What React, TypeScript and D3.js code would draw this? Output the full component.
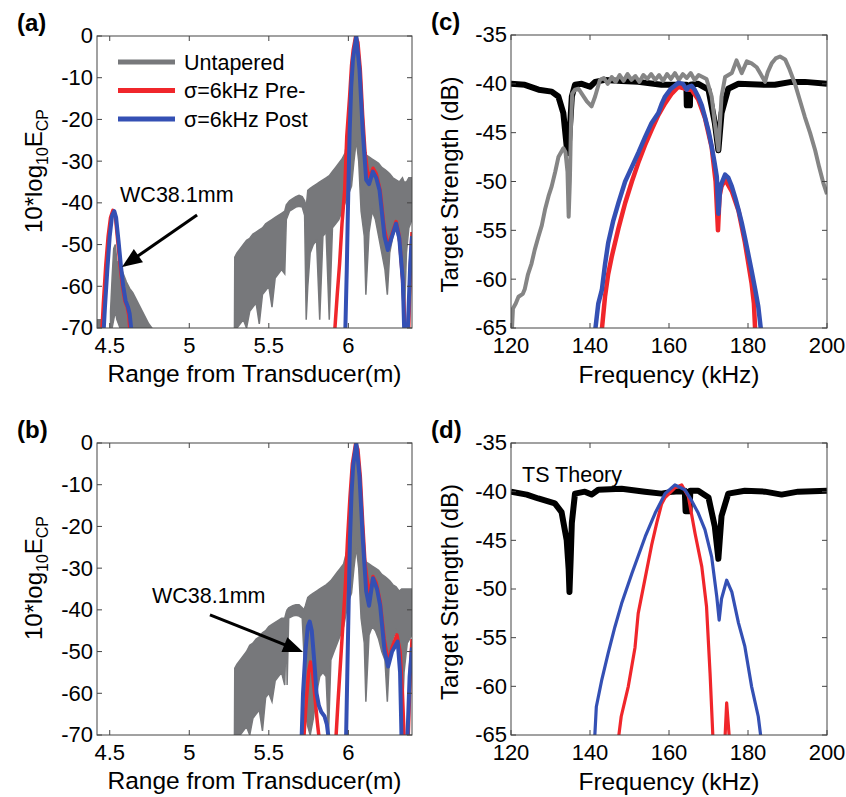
import * as d3 from "d3";

const FONT = "'Liberation Sans', Arial, Helvetica, sans-serif";
const GRAY_BAND = "#77787b";
const GRAY_LINE = "#858585";
const RED = "#f0262b";
const BLUE = "#3450b4";
const AXIS = "#444";

const rangeTicks = [4.5, 5, 5.5, 6];
const ecpTicks = [0, -10, -20, -30, -40, -50, -60, -70];
const freqTicks = [120, 140, 160, 180, 200];
const tsTicks = [-35, -40, -45, -50, -55, -60, -65];

const legendLabels = ["Untapered", "\u03c3=6kHz Pre-", "\u03c3=6kHz Post"];

// untapered compressed-pulse output: [range m, upper dB, lower dB], NaN = gap
const untaperedA = [
  [4.42, -68, -70], [4.465, -68, -70], [4.47, NaN, NaN],
  [4.505, -66, -70], [4.515, -58, -70], [4.525, -51, -68], [4.535, -50, -66], [4.545, -54, -68],
  [4.565, -55, -70], [4.585, -57, -70], [4.605, -59, -70], [4.625, -60.5, -70], [4.645, -61.5, -70],
  [4.665, -63, -70], [4.685, -64.5, -70], [4.705, -66, -70], [4.725, -67.5, -70], [4.745, -69, -70],
  [4.765, -70, -70], [4.77, NaN, NaN],
  [5.284, -70, -70], [5.286, -53, -70], [5.30, -52, -70], [5.32, -51, -69], [5.34, -50, -68],
  [5.36, -49, -70], [5.38, -48.5, -66], [5.40, -47.5, -65], [5.42, -47, -64], [5.44, -46.5, -69],
  [5.46, -46, -62], [5.48, -45, -61], [5.50, -44.5, -60], [5.52, -44, -65], [5.54, -43.5, -58],
  [5.56, -43, -57], [5.58, -42.5, -56], [5.60, -42, -57], [5.61, -40.5, -44], [5.63, -39.5, -42],
  [5.65, -39, -41.5], [5.67, -38.5, -41], [5.69, -38.2, -40.8], [5.71, -38.5, -41], [5.725, -39.5, -43],
  [5.735, -41, -68], [5.745, -37, -60], [5.76, -36.5, -52], [5.78, -36, -50], [5.80, -35.5, -49],
  [5.82, -35, -68], [5.84, -34.5, -48], [5.86, -34, -47], [5.88, -33.5, -68], [5.90, -32.5, -46],
  [5.92, -31.5, -45], [5.94, -30.5, -44], [5.96, -29.5, -42], [5.98, -28, -40], [6.00, -22, -38],
  [6.02, -10, -36], [6.035, -3, -30], [6.05, -1, -25], [6.065, -4, -30], [6.08, -18, -42],
  [6.10, -27, -48], [6.11, -28.5, -62], [6.13, -29, -47], [6.15, -29.5, -42], [6.17, -30, -44],
  [6.19, -30.5, -48], [6.21, -31.5, -52], [6.23, -32, -56], [6.245, -32.5, -62], [6.26, -33, -52],
  [6.28, -34, -48], [6.30, -34.5, -46], [6.32, -35, -50], [6.34, -34, -60], [6.35, -35, -70],
  [6.365, -35, -52], [6.38, -34, -46], [6.40, -34, -44],
];

const untaperedB = [
  [5.284, -70, -70], [5.286, -54, -70], [5.30, -53, -70], [5.32, -52, -70], [5.34, -51, -69],
  [5.36, -50, -68], [5.38, -48.5, -70], [5.40, -48, -66], [5.42, -47, -65], [5.44, -46.5, -64],
  [5.46, -45.5, -69], [5.48, -45, -61], [5.50, -44, -60], [5.52, -43.5, -62], [5.54, -43, -57],
  [5.56, -42.5, -56], [5.58, -42, -55], [5.60, -42, -58], [5.61, -40.5, -44], [5.615, -40, -58],
  [5.625, -39.5, -42], [5.65, -39, -41.5], [5.67, -38.8, -41.3], [5.69, -38.8, -41.5], [5.71, -39.5, -42],
  [5.72, -40, -50], [5.73, -39, -65], [5.745, -37, -68], [5.76, -36.5, -70], [5.78, -36, -66],
  [5.80, -35.5, -60], [5.82, -35, -56], [5.84, -34.5, -55], [5.86, -34, -56], [5.875, -33.5, -70],
  [5.89, -33, -52], [5.91, -32, -50], [5.93, -31, -48], [5.95, -30, -46], [5.97, -29, -44],
  [5.99, -26, -40], [6.00, -22, -38], [6.02, -10, -36], [6.035, -3, -30], [6.05, -1, -25],
  [6.065, -4, -30], [6.08, -18, -42], [6.10, -27, -48], [6.11, -28.5, -62], [6.13, -29, -46],
  [6.15, -29.5, -44], [6.17, -30, -45], [6.19, -30.5, -47], [6.21, -31.5, -50], [6.23, -32, -52],
  [6.245, -32.5, -62], [6.26, -33, -50], [6.28, -34, -47], [6.30, -34.5, -45], [6.32, -35.5, -50],
  [6.335, -35, -70], [6.35, -35, -55], [6.37, -35, -48], [6.40, -35, -46],
];

// tapered outputs: [range m, dB]
const preA = [
  [4.449, -72], [4.46, -64], [4.475, -55], [4.49, -48], [4.505, -43.5], [4.52, -41.8], [4.535, -43],
  [4.55, -49], [4.565, -55], [4.58, -60], [4.595, -63.5], [4.61, -65], [4.62, -67], [4.63, -72],
  [4.64, NaN],
  [5.912, -72], [5.93, -62], [5.945, -54.5], [5.96, -45], [5.977, -37], [5.99, -24], [6.008, -14.5],
  [6.02, -7], [6.03, -3.4], [6.046, 0], [6.06, -1.5], [6.075, -8], [6.09, -19], [6.105, -28],
  [6.12, -32.5], [6.135, -33.8], [6.155, -31.7], [6.175, -33], [6.20, -37], [6.225, -46],
  [6.25, -50.5], [6.27, -48], [6.30, -44.5], [6.32, -48], [6.34, -58], [6.36, -72], [6.378, -72],
  [6.39, -55], [6.40, -47],
];

const postA = [
  [4.46, -72], [4.47, -65], [4.485, -56], [4.50, -48], [4.515, -43], [4.529, -42], [4.54, -43.5],
  [4.555, -49], [4.57, -55], [4.585, -60], [4.60, -63.5], [4.615, -65], [4.625, -66.5], [4.64, -72],
  [4.65, NaN],
  [5.98, -72], [5.99, -56], [5.997, -42], [6.008, -23], [6.018, -12], [6.029, -5.5], [6.05, 0],
  [6.07, -8], [6.09, -22.5], [6.112, -34.5], [6.13, -35.5], [6.154, -32.5], [6.175, -34],
  [6.196, -37], [6.227, -48], [6.248, -51.3], [6.27, -48.5], [6.30, -45], [6.32, -48.5],
  [6.342, -58.5], [6.352, -72], [6.372, -72], [6.389, -54.5], [6.40, -48],
];

const preB = [
  [5.718, -72], [5.735, -62], [5.75, -55], [5.762, -52.5], [5.775, -55], [5.79, -61], [5.805, -67],
  [5.82, -72], [5.83, NaN],
  [5.92, -72], [5.935, -62], [5.95, -53], [5.965, -44], [5.98, -35], [5.995, -23], [6.01, -13],
  [6.025, -5], [6.046, 0], [6.06, -1.5], [6.075, -8], [6.09, -19], [6.105, -29], [6.12, -33.5],
  [6.135, -36], [6.155, -32], [6.175, -33.5], [6.20, -38], [6.225, -47], [6.25, -52.5],
  [6.275, -49], [6.305, -46], [6.325, -50], [6.34, -60], [6.352, -72], [6.375, -72], [6.39, -54],
  [6.40, -47],
];

const postB = [
  [5.705, -72], [5.715, -60], [5.73, -50], [5.745, -44], [5.757, -42.8], [5.77, -45], [5.785, -52],
  [5.80, -60], [5.815, -63], [5.83, -64.5], [5.85, -65.5], [5.865, -67.5], [5.88, -72], [5.89, NaN],
  [5.985, -72], [5.993, -56], [6.0, -42], [6.01, -23], [6.02, -12], [6.03, -5.5], [6.05, 0],
  [6.07, -8], [6.09, -22.5], [6.112, -35.5], [6.13, -39], [6.155, -32.4], [6.18, -35],
  [6.20, -39], [6.228, -50], [6.25, -53.6], [6.275, -50], [6.31, -47.6], [6.325, -55],
  [6.335, -72], [6.37, -72], [6.385, -56], [6.40, -49],
];

// target strength: [frequency kHz, dB]
const theoryC = [
  [120, -40], [123.5, -40.1], [127, -40.6], [130.3, -40.8], [132, -41.3], [133.25, -43],
  [134.1, -46.4], [134.5, -47.1], [135, -44], [135.4, -41.3], [136.2, -40.1], [137.9, -40],
  [140, -40.3], [141.3, -39.8], [143.8, -39.6], [148, -39.7], [152.2, -39.8], [158.1, -40.1],
  [162, -40.1], [164.4, -40.1], [164.5, -42.2], [165.3, -42.2], [165.4, -40.1], [167.4, -40],
  [170, -40.6], [171.6, -44], [172.5, -46.8], [173.3, -43], [175, -40.5], [177.6, -40],
  [184.3, -40.1], [186.8, -40.1], [191, -39.8], [194.4, -39.8], [200, -40],
];

const measuredC = [
  [120.2, -65.5], [120.5, -63], [121.2, -62.5], [121.9, -61.8], [123, -61.5], [123.5, -61],
  [124.3, -59.5], [125.2, -58.4], [126, -57], [126.9, -55.7], [127.8, -54.5], [128.6, -52.9],
  [129.5, -51.5], [130.3, -50.5], [131.2, -49], [132, -47.5], [133.25, -46.6], [133.8, -47],
  [134.3, -49], [134.6, -53.6], [134.9, -50], [135.2, -44], [135.5, -41], [136.2, -40.6],
  [137.1, -40.5], [137.9, -41], [139.2, -41.8], [140.4, -42.3], [141.3, -41.3], [142.5, -39.6],
  [143.5, -39.4], [144.5, -40], [145.5, -39.3], [146.5, -39.8], [147.5, -39.1], [148.5, -39.7],
  [149.5, -39], [150.5, -39.6], [151.5, -39.2], [152.5, -39.8], [153.5, -39.1], [154.5, -39.5],
  [155.5, -39], [156.5, -39.6], [157.5, -39.1], [158.5, -39.7], [159.5, -39], [160.5, -39.5],
  [161.5, -38.9], [162.5, -39.6], [163.5, -39], [164.5, -39.4], [165.5, -38.9], [166.5, -39.6],
  [167.5, -39.1], [168.5, -39.3], [169.5, -39.5], [170.8, -41.3], [171.6, -44], [172.5, -46.8],
  [173.3, -41.3], [174.2, -39.3], [175.9, -38.9], [177.1, -37.6], [178.4, -38.9], [179.7, -37.7],
  [180.9, -37.9], [182.2, -38.3], [183.2, -39], [184.3, -39.8], [185, -38.8], [186, -37.9],
  [187, -37.4], [188.1, -37.2], [189.4, -37.5], [190.5, -38.5], [191.9, -40], [193, -41.5],
  [194.4, -43.4], [195.7, -45], [197, -46.8], [198, -48.5], [199.1, -50.2], [200, -51.3],
];

const preC = [
  [142.8, -66], [143.8, -61.8], [144.6, -59.5], [145.5, -57.7], [147.2, -54.8], [148.9, -52.2],
  [150.6, -50], [152.2, -48.1], [153.9, -46.3], [155.6, -44.7], [157.3, -43.2], [159, -42],
  [160.7, -41], [162.4, -40.3], [164, -40.5], [165, -40.6], [165.7, -40.6], [167.4, -41.6],
  [169.1, -43.5], [170.8, -46.5], [171.8, -50], [172.4, -55], [172.8, -51.5], [173.3, -50.5],
  [174.2, -49.8], [175.9, -51], [177.6, -53], [179.2, -56.2], [180.9, -60.4], [181.5, -62.5],
  [181.9, -66],
];

const postC = [
  [141.1, -66], [142.1, -62.5], [143, -61.1], [143.8, -58.5], [144.6, -56.3], [145.9, -54],
  [147.2, -52.2], [148.9, -50], [150.6, -48.5], [152.3, -47], [154, -45.4], [155.6, -44],
  [157.3, -43], [158.2, -42], [159, -41.3], [160.5, -40.5], [162.4, -39.9], [163.5, -40],
  [164.5, -40.6], [165, -40.3], [165.7, -40.2], [166.5, -40.6], [167.4, -41.3], [168.3, -42.2],
  [169.1, -43.4], [170, -44.8], [170.8, -46.4], [171.5, -48], [172.1, -49.5], [172.5, -53.3],
  [172.9, -51], [173.3, -50.2], [174.2, -49.3], [175, -49.6], [175.9, -50.5], [176.8, -51.7],
  [177.6, -52.9], [178.4, -54.2], [179.2, -55.7], [180, -57.3], [180.9, -59.1], [181.8, -61],
  [182.6, -62.8], [183.5, -66],
];

const theoryD = [
  [120, -40], [124, -40.3], [126.9, -40.7], [131.1, -41.2], [132.8, -42.1], [134.1, -45],
  [134.6, -48], [134.8, -50.3], [135.1, -47], [135.4, -43.2], [136.2, -40.2], [138.7, -40],
  [140.4, -40.3], [142.1, -39.8], [148, -39.7], [153.9, -40], [158.1, -40.2], [161, -40],
  [164, -39.9], [164.2, -42], [165.2, -42], [165.4, -39.9], [167.4, -39.9], [170, -40.6],
  [171.6, -43.6], [172.5, -46.9], [173.3, -42.5], [175, -40.2], [179.2, -39.9], [184.3, -40],
  [188.5, -40.3], [192.7, -40], [200, -39.9],
];

const preD = [
  [147, -66], [147.9, -63.1], [149.7, -60], [151.4, -56], [152.2, -52.5], [154, -48.8],
  [155.6, -45.5], [156.9, -43.2], [158.1, -41.3], [159, -40.6], [161.5, -39.6], [163.2, -39.3],
  [164.9, -40.5], [166.6, -44.3], [168.3, -47.7], [169.5, -51.8], [170.4, -58.7], [171.2, -66],
  [172, NaN],
  [174.1, -66], [174.6, -61.7], [175.4, -66],
];

const postD = [
  [141.1, -66], [141.6, -62.1], [143, -59.3], [144.6, -56.6], [146.3, -53.9], [148, -51.5],
  [150.6, -48.4], [152.3, -46.5], [154, -44.6], [156.5, -42.2], [159, -40.2], [161.5, -39.3],
  [164, -39.8], [165.7, -40.9], [167.4, -42.2], [169.1, -43.9], [170.8, -46.7], [172.1, -50.8],
  [172.7, -53.2], [173.3, -51], [174.6, -49.1], [175.9, -50.3], [177.6, -53.5], [179.2, -55.9],
  [180.9, -60], [182.6, -63.1], [183.5, -66],
];

type Box = { left: number; top: number; right: number; bottom: number };
type Scale = d3.ScaleLinear<number, number>;

const boxA: Box = { left: 97, top: 36, right: 412, bottom: 328 };
const boxB: Box = { left: 97, top: 443, right: 412, bottom: 735 };
const boxC: Box = { left: 511, top: 35, right: 827, bottom: 328 };
const boxD: Box = { left: 511, top: 443, right: 827, bottom: 735 };

const scales = (box: Box, xd: number[], yd: number[]) => ({
  x: d3.scaleLinear().domain(xd).range([box.left, box.right]),
  y: d3.scaleLinear().domain(yd).range([box.bottom, box.top]),
});

const linePath = (x: Scale, y: Scale, data: number[][]) =>
  d3
    .line<number[]>()
    .defined((d) => !isNaN(d[1]))
    .x((d) => x(d[0]))
    .y((d) => y(d[1]))(data) || "";

const bandPath = (x: Scale, y: Scale, data: number[][]) =>
  d3
    .area<number[]>()
    .defined((d) => !isNaN(d[1]))
    .x((d) => x(d[0]))
    .y0((d) => y(d[2]))
    .y1((d) => y(d[1]))(data) || "";

function Frame({ id, box, x, y, xTicks, yTicks, children }: any) {
  const w = box.right - box.left;
  const h = box.bottom - box.top;
  const tl = 5;
  return (
    <g>
      <defs>
        <clipPath id={id}>
          <rect x={box.left} y={box.top} width={w} height={h} />
        </clipPath>
      </defs>
      <g clipPath={`url(#${id})`}>{children}</g>
      <rect x={box.left} y={box.top} width={w} height={h} fill="none" stroke={AXIS} strokeWidth={1} />
      {xTicks.map((t: number) => (
        <g key={"x" + t}>
          <line x1={x(t)} x2={x(t)} y1={box.bottom} y2={box.bottom - tl} stroke={AXIS} />
          <line x1={x(t)} x2={x(t)} y1={box.top} y2={box.top + tl} stroke={AXIS} />
          <text x={x(t)} y={box.bottom + 25} textAnchor="middle" fontSize={22}>
            {t}
          </text>
        </g>
      ))}
      {yTicks.map((t: number) => (
        <g key={"y" + t}>
          <line x1={box.left} x2={box.left + tl} y1={y(t)} y2={y(t)} stroke={AXIS} />
          <line x1={box.right} x2={box.right - tl} y1={y(t)} y2={y(t)} stroke={AXIS} />
          <text x={box.left - 4} y={y(t)} dy="0.34em" textAnchor="end" fontSize={22}>
            {t}
          </text>
        </g>
      ))}
    </g>
  );
}

function Arrow({ from, to }: { from: number[]; to: number[] }) {
  const dx = to[0] - from[0];
  const dy = to[1] - from[1];
  const len = Math.hypot(dx, dy);
  const ux = dx / len;
  const uy = dy / len;
  const hl = 20;
  const hw = 8;
  const bx = to[0] - ux * hl;
  const by = to[1] - uy * hl;
  const pts = [
    [to[0], to[1]],
    [bx - uy * hw, by + ux * hw],
    [bx + uy * hw, by - ux * hw],
  ];
  return (
    <g>
      <line x1={from[0]} y1={from[1]} x2={bx + ux * 2} y2={by + uy * 2} stroke="#000" strokeWidth={3} />
      <polygon points={pts.map((p) => p.join(",")).join(" ")} fill="#000" />
    </g>
  );
}

function RangePanel({ id, box, band, pre, post, tag, arrowFrom, arrowTo, textAt, legend }: any) {
  const { x, y } = scales(box, [4.42, 6.4], [-70, 0]);
  const midY = (box.top + box.bottom) / 2;
  return (
    <g>
      <Frame id={id} box={box} x={x} y={y} xTicks={rangeTicks} yTicks={ecpTicks}>
        <path d={bandPath(x, y, band)} fill={GRAY_BAND} stroke={GRAY_BAND} strokeWidth={1.5} />
        <path d={linePath(x, y, pre)} fill="none" stroke={RED} strokeWidth={3.5} strokeLinejoin="round" />
        <path d={linePath(x, y, post)} fill="none" stroke={BLUE} strokeWidth={4} strokeLinejoin="round" />
      </Frame>
      <text x={box.left - 80} y={box.top - 5} fontSize={24} fontWeight="bold">
        {tag}
      </text>
      <text transform={`translate(42,${midY - 11}) rotate(-90)`} textAnchor="middle" fontSize={24}>
        10*log
        <tspan fontSize={16} dy={6}>
          10
        </tspan>
        <tspan dy={-6}>E</tspan>
        <tspan fontSize={16} dy={6}>
          CP
        </tspan>
      </text>
      <text x={(box.left + box.right) / 2} y={box.bottom + 54} textAnchor="middle" fontSize={24.5}>
        Range from Transducer(m)
      </text>
      <text x={x(textAt[0])} y={y(textAt[1])} fontSize={21.5}>
        WC38.1mm
      </text>
      <Arrow from={[x(arrowFrom[0]), y(arrowFrom[1])]} to={[x(arrowTo[0]), y(arrowTo[1])]} />
      {legend &&
        legendLabels.map((lab, i) => {
          const ly = box.top + 26 + i * 28.5;
          const c = [GRAY_BAND, RED, BLUE][i];
          return (
            <g key={lab}>
              <line x1={box.left + 21} x2={box.left + 78} y1={ly} y2={ly} stroke={c} strokeWidth={5} />
              <text x={box.left + 87} y={ly} dy="0.36em" fontSize={21.5}>
                {lab}
              </text>
            </g>
          );
        })}
    </g>
  );
}

function FreqPanel({ id, box, theory, measured, pre, post, tag, thin, theoryLabel }: any) {
  const { x, y } = scales(box, [120, 200], [-65, -35]);
  const midY = (box.top + box.bottom) / 2;
  const w = thin ? 3.2 : 4.5;
  return (
    <g>
      <Frame id={id} box={box} x={x} y={y} xTicks={freqTicks} yTicks={tsTicks}>
        <path d={linePath(x, y, theory)} fill="none" stroke="#000" strokeWidth={6} strokeLinejoin="round" />
        {measured && (
          <path d={linePath(x, y, measured)} fill="none" stroke={GRAY_LINE} strokeWidth={4} strokeLinejoin="round" />
        )}
        <path d={linePath(x, y, pre)} fill="none" stroke={RED} strokeWidth={w} strokeLinejoin="round" />
        <path d={linePath(x, y, post)} fill="none" stroke={BLUE} strokeWidth={w} strokeLinejoin="round" />
      </Frame>
      <text x={box.left - 80} y={box.top - 5} fontSize={24} fontWeight="bold">
        {tag}
      </text>
      <text transform={`translate(458,${midY + 3}) rotate(-90)`} textAnchor="middle" fontSize={24}>
        Target Strength (dB)
      </text>
      <text x={(box.left + box.right) / 2} y={box.bottom + 55} textAnchor="middle" fontSize={24.5}>
        Frequency (kHz)
      </text>
      {theoryLabel && (
        <text x={x(122.8)} y={y(-39)} fontSize={21.5}>
          TS Theory
        </text>
      )}
    </g>
  );
}

export default function App() {
  return (
    <div style={{ position: "absolute", left: 0, top: 0 }}>
      <svg width={846} height={797} style={{ display: "block", background: "#fff" }} fontFamily={FONT}>
        <rect width={846} height={797} fill="#fff" />
        <RangePanel
          id="clipA"
          box={boxA}
          band={untaperedA}
          pre={preA}
          post={postA}
          tag="(a)"
          textAt={[4.565, -39.8]}
          arrowFrom={[5.049, -42.9]}
          arrowTo={[4.577, -55.4]}
          legend
        />
        <RangePanel
          id="clipB"
          box={boxB}
          band={untaperedB}
          pre={preB}
          post={postB}
          tag="(b)"
          textAt={[4.766, -38.4]}
          arrowFrom={[5.13, -41.2]}
          arrowTo={[5.715, -50.1]}
        />
        <FreqPanel id="clipC" box={boxC} theory={theoryC} measured={measuredC} pre={preC} post={postC} tag="(c)" />
        <FreqPanel id="clipD" box={boxD} theory={theoryD} pre={preD} post={postD} tag="(d)" thin theoryLabel />
      </svg>
    </div>
  );
}
